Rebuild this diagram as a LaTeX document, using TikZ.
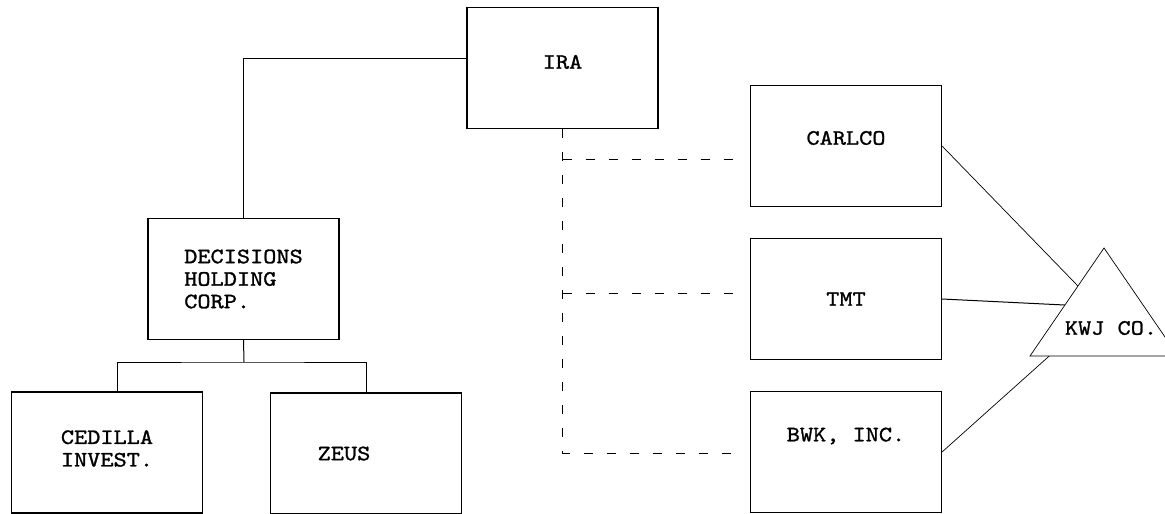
\documentclass[tikz,border=0pt]{standalone}
\usepackage{fontspec}
\setmonofont{lmmono10-regular.otf}[FakeStretch=1.14,FakeBold=1.2]
\usetikzlibrary{calc}
\newcommand{\boxup}[2]{\raisebox{#1}[\height][\depth]{#2}}
\tikzset{
  orgbox/.style={draw, line width=1.1pt, minimum width=191pt, minimum height=121pt,
    align=left, inner sep=0pt, font=\ttfamily\fontsize{22}{22.5}\selectfont},
  link/.style={line width=1pt},
  thinlink/.style={line width=0.7pt},
  dashlink/.style={line width=1pt, dash pattern=on 9pt off 14pt},
}
\begin{document}
\begin{tikzpicture}[x=1pt,y=-1pt]
\useasboundingbox (0,0) rectangle (1165,514);
\node[orgbox] (ira) at (562.5,68) {\boxup{6pt}{IRA}};
\node[orgbox] (dhc) at (243.5,279) {DECISIONS\\HOLDING\\CORP.};
\node[orgbox] (cedilla) at (107,452.5) {\boxup{4pt}{CEDILLA}\\\boxup{4pt}{INVEST.}};
\node[orgbox] (zeus) at (366,453.5) {ZEUS\hspace*{44pt}};
\node[orgbox] (carlco) at (846,146) {\boxup{8pt}{CARLCO}};
\node[orgbox] (tmt) at (846,299) {TMT};
\node[orgbox] (bwk) at (846,452) {\boxup{16pt}{BWK, INC.}};
% KWJ triangle, cut at the right edge
\coordinate (ktop) at (1104,248);
\coordinate (kleft) at (1030,356);
\coordinate (kright) at (1178,356);
\draw[thinlink] (ktop) -- (kleft) -- (kright) -- cycle;
\node[font=\ttfamily\fontsize{22}{22.5}\selectfont] (kwj) at (1111,328) {KWJ CO.};
% ownership lines
\coordinate (bus) at (244,362);
\draw[link] ([yshift=10pt]ira.west) -| (dhc.north);
\draw[link] (dhc.south) -- (bus);
\draw[link] ([xshift=10pt]cedilla.north) |- (bus) -| (zeus.north);
% dashed links from IRA
\coordinate (dc) at (740,159);
\coordinate (dt) at (740,293);
\coordinate (db) at (740,453);
\draw[dashlink] (ira.south) |- (db);
\draw[dashlink] (ira.south |- dc) -- (dc);
\draw[dashlink] (ira.south |- dt) -- (dt);
% links to KWJ
\draw[thinlink] (carlco.east) -- ($(kleft)!0.648!(ktop)$);
\draw[link] (tmt.east) -- ($(kleft)!0.472!(ktop)$);
\draw[thinlink] (bwk.east) -- ($(kleft)!0.13!(kright)$);
\end{tikzpicture}
\end{document}
